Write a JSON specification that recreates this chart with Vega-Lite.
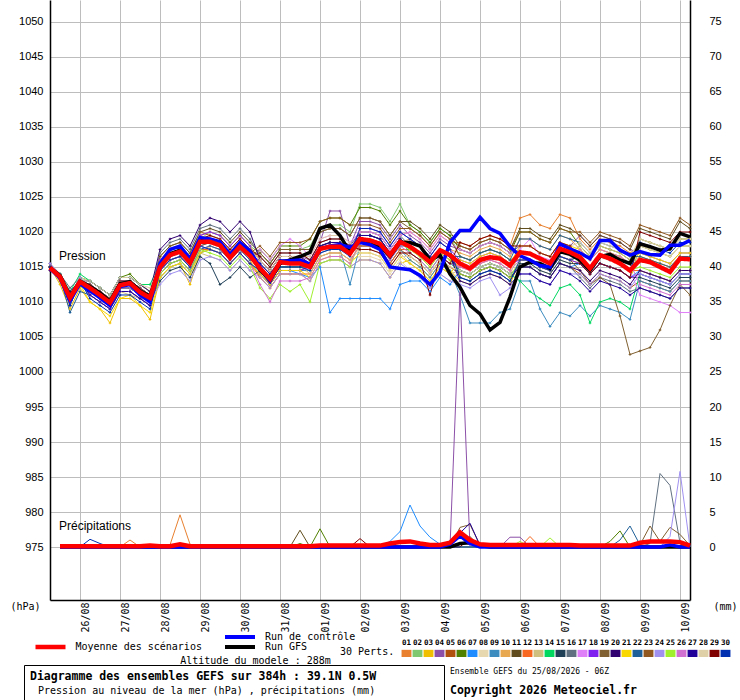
{
  "$schema": "https://vega.github.io/schema/vega-lite/v6.json",
  "width": 640,
  "height": 600,
  "autosize": {"type": "none"},
  "padding": {"left": 50, "top": 0, "right": 50, "bottom": 100},
  "background": "white",
  "config": {"view": {"stroke": null}, "font": "DejaVu Sans Mono"},
  "title": {
    "text": "Ensemble GEFS du 25/08/2026 - 06Z",
    "subtitle": "Copyright 2026 Meteociel.fr",
    "orient": "top", "anchor": "start", "frame": "group", "offset": 0,
    "dx": 400, "dy": 696,
    "font": "DejaVu Sans Mono", "fontSize": 8, "fontWeight": "normal", "color": "black",
    "subtitleFont": "DejaVu Sans Mono", "subtitleFontSize": 11.5, "subtitleFontWeight": "bold",
    "subtitleColor": "black", "subtitlePadding": 9
  },
  "datasets": {
    "pres": [
      {"h":0,"moy":1014.9,"ctl":1014.8,"gfs":1014.9,"01":1015,"02":1015,"03":1015,"04":1015,"05":1014.5,"06":1015,"07":1015,"08":1015.5,"09":1015,"10":1015,"11":1015,"12":1015,"13":1015,"14":1015,"15":1015,"16":1015,"17":1015,"18":1015,"19":1015,"20":1015.5,"21":1015,"22":1015,"23":1015,"24":1015.5,"25":1015,"26":1015,"27":1014.5,"28":1015,"29":1015,"30":1015},
      {"h":6,"moy":1013.6,"ctl":1013.4,"gfs":1013.8,"01":1013.5,"02":1014,"03":1012.5,"04":1013.5,"05":1013.5,"06":1014,"07":1013,"08":1014,"09":1013.5,"10":1013.5,"11":1013.5,"12":1013,"13":1013.5,"14":1014,"15":1013.5,"16":1014,"17":1013.5,"18":1013.5,"19":1013.5,"20":1013.5,"21":1013,"22":1013.5,"23":1013.5,"24":1014,"25":1013.5,"26":1013.5,"27":1013.5,"28":1013.5,"29":1013.5,"30":1013.5},
      {"h":12,"moy":1010.6,"ctl":1010.2,"gfs":1010.8,"01":1010.5,"02":1011,"03":1009,"04":1010.5,"05":1010.5,"06":1011,"07":1010,"08":1011,"09":1010.5,"10":1010.5,"11":1010.5,"12":1010,"13":1010.5,"14":1011.5,"15":1010.5,"16":1012,"17":1010.5,"18":1010.5,"19":1010.5,"20":1011.5,"21":1010,"22":1008.5,"23":1010.5,"24":1011,"25":1010.5,"26":1010.5,"27":1009.5,"28":1010.5,"29":1010.5,"30":1009.5},
      {"h":18,"moy":1012.9,"ctl":1012.6,"gfs":1013.0,"01":1013,"02":1013.5,"03":1012,"04":1013,"05":1013,"06":1013.5,"07":1012.5,"08":1013.5,"09":1013,"10":1013,"11":1013,"12":1012.5,"13":1013,"14":1014,"15":1013,"16":1013.5,"17":1013,"18":1013,"19":1013,"20":1013,"21":1012.5,"22":1011.5,"23":1013,"24":1013.5,"25":1013,"26":1013,"27":1013,"28":1013,"29":1013,"30":1013},
      {"h":24,"moy":1012.0,"ctl":1011.6,"gfs":1012.2,"01":1011.5,"02":1013,"03":1010,"04":1012.5,"05":1011.5,"06":1013,"07":1011,"08":1013,"09":1011.5,"10":1012,"11":1012.5,"12":1011.5,"13":1011,"14":1013,"15":1011.5,"16":1012,"17":1011,"18":1012.5,"19":1012,"20":1013,"21":1010,"22":1011,"23":1012.5,"24":1011.5,"25":1012,"26":1011,"27":1011,"28":1013,"29":1012,"30":1010.5},
      {"h":30,"moy":1011.0,"ctl":1010.6,"gfs":1011.3,"01":1010.5,"02":1012,"03":1009,"04":1011.5,"05":1010.5,"06":1012,"07":1010,"08":1012,"09":1010.5,"10":1011,"11":1011.5,"12":1010.5,"13":1010,"14":1012,"15":1010.5,"16":1011,"17":1010,"18":1011.5,"19":1011,"20":1012,"21":1009,"22":1010,"23":1011.5,"24":1010.5,"25":1011,"26":1010,"27":1010,"28":1012,"29":1011,"30":1009.5},
      {"h":36,"moy":1009.9,"ctl":1009.5,"gfs":1010.1,"01":1009.5,"02":1011,"03":1007,"04":1010.5,"05":1009.5,"06":1011,"07":1009,"08":1011,"09":1009.5,"10":1010,"11":1010.5,"12":1009.5,"13":1009,"14":1011,"15":1009.5,"16":1010,"17":1009,"18":1010.5,"19":1010,"20":1011,"21":1008,"22":1009,"23":1010.5,"24":1009.5,"25":1010,"26":1009,"27":1009,"28":1011,"29":1010,"30":1008.5},
      {"h":42,"moy":1012.4,"ctl":1012.2,"gfs":1012.6,"01":1012,"02":1013.5,"03":1010.5,"04":1013,"05":1012,"06":1013.5,"07":1011.5,"08":1013.5,"09":1012,"10":1012.5,"11":1013,"12":1012,"13":1011.5,"14":1013.5,"15":1012,"16":1012.5,"17":1011.5,"18":1013,"19":1012.5,"20":1013.5,"21":1010.5,"22":1011.5,"23":1013,"24":1012,"25":1012.5,"26":1011.5,"27":1011.5,"28":1013.5,"29":1012.5,"30":1011},
      {"h":48,"moy":1012.7,"ctl":1012.5,"gfs":1012.9,"01":1012,"02":1013.5,"03":1010.5,"04":1013,"05":1012,"06":1014,"07":1011.5,"08":1013.5,"09":1012,"10":1012.5,"11":1013,"12":1012,"13":1011,"14":1013.5,"15":1012,"16":1012.5,"17":1011.5,"18":1013,"19":1012.5,"20":1013.5,"21":1011,"22":1011.5,"23":1013,"24":1012,"25":1012.5,"26":1011.5,"27":1011.5,"28":1013.5,"29":1012.5,"30":1011},
      {"h":54,"moy":1011.4,"ctl":1011.0,"gfs":1011.6,"01":1011,"02":1012.5,"03":1009.5,"04":1012,"05":1011,"06":1012.5,"07":1010.5,"08":1012.5,"09":1011,"10":1011.5,"11":1012,"12":1011,"13":1010.5,"14":1012.5,"15":1011,"16":1011.5,"17":1010.5,"18":1012,"19":1011.5,"20":1012.5,"21":1009.5,"22":1010.5,"23":1012,"24":1011,"25":1011.5,"26":1010.5,"27":1010.5,"28":1012.5,"29":1011.5,"30":1010},
      {"h":60,"moy":1010.6,"ctl":1010.0,"gfs":1010.8,"01":1010,"02":1011.5,"03":1007.5,"04":1011,"05":1010,"06":1011.5,"07":1009.5,"08":1011.5,"09":1010,"10":1010.5,"11":1011,"12":1010,"13":1009.5,"14":1012.5,"15":1010,"16":1010.5,"17":1009.5,"18":1011,"19":1010.5,"20":1011.5,"21":1008.5,"22":1009.5,"23":1011,"24":1010,"25":1010.5,"26":1009.5,"27":1009.5,"28":1012,"29":1010.5,"30":1009},
      {"h":66,"moy":1015.0,"ctl":1015.5,"gfs":1015.2,"01":1016,"02":1015.5,"03":1013.5,"04":1014.5,"05":1016.5,"06":1015.5,"07":1014.5,"08":1016.5,"09":1013.5,"10":1016,"11":1016.5,"12":1014,"13":1013.5,"14":1015.5,"15":1013,"16":1017,"17":1014,"18":1016,"19":1014.5,"20":1017.5,"21":1013.5,"22":1014,"23":1015,"24":1012.5,"25":1014,"26":1014.5,"27":1015,"28":1015.5,"29":1015.5,"30":1014.5},
      {"h":72,"moy":1016.7,"ctl":1017.5,"gfs":1016.9,"01":1017.5,"02":1017,"03":1015,"04":1016,"05":1018,"06":1017,"07":1016,"08":1018,"09":1015,"10":1017.5,"11":1018,"12":1015.5,"13":1015,"14":1017,"15":1014.5,"16":1018.5,"17":1015.5,"18":1017.5,"19":1016,"20":1019,"21":1015,"22":1015.5,"23":1016.5,"24":1014,"25":1015.5,"26":1016,"27":1016.5,"28":1017,"29":1017,"30":1016},
      {"h":78,"moy":1017.2,"ctl":1018.0,"gfs":1017.4,"01":1018,"02":1017.5,"03":1015.5,"04":1016.5,"05":1018.5,"06":1017.5,"07":1016.5,"08":1018.5,"09":1015.5,"10":1018,"11":1018.5,"12":1016,"13":1015.5,"14":1017.5,"15":1015,"16":1019,"17":1016,"18":1018,"19":1016.5,"20":1019.5,"21":1015.5,"22":1016,"23":1017,"24":1014.5,"25":1016,"26":1016.5,"27":1017,"28":1017.5,"29":1017.5,"30":1016.5},
      {"h":84,"moy":1015.6,"ctl":1016.2,"gfs":1015.8,"01":1016.5,"02":1016,"03":1012.5,"04":1015,"05":1017,"06":1016,"07":1015,"08":1017,"09":1014,"10":1016.5,"11":1017,"12":1014.5,"13":1014,"14":1016,"15":1013.5,"16":1017.5,"17":1014.5,"18":1016.5,"19":1015,"20":1018,"21":1014,"22":1014.5,"23":1015.5,"24":1013,"25":1014.5,"26":1015,"27":1015.5,"28":1016,"29":1016,"30":1015},
      {"h":90,"moy":1018.6,"ctl":1019.2,"gfs":1018.8,"01":1019.5,"02":1019,"03":1017,"04":1018,"05":1020,"06":1019,"07":1018,"08":1020,"09":1017,"10":1019.5,"11":1020,"12":1017.5,"13":1017,"14":1019,"15":1016.5,"16":1020.5,"17":1017.5,"18":1019.5,"19":1018,"20":1021,"21":1017,"22":1017.5,"23":1018.5,"24":1016,"25":1017.5,"26":1018,"27":1018.5,"28":1019,"29":1019,"30":1018},
      {"h":96,"moy":1018.6,"ctl":1019.0,"gfs":1018.8,"01":1019,"02":1020,"03":1018,"04":1018.5,"05":1019.5,"06":1018.5,"07":1017.5,"08":1019,"09":1017.5,"10":1020,"11":1020.5,"12":1017.5,"13":1016.5,"14":1018.5,"15":1015.5,"16":1021,"17":1018,"18":1020,"19":1018.5,"20":1022,"21":1017.5,"22":1018,"23":1019,"24":1016.5,"25":1017,"26":1017.5,"27":1018.5,"28":1019.5,"29":1019.5,"30":1017.5},
      {"h":102,"moy":1018.1,"ctl":1018.6,"gfs":1018.3,"01":1018.5,"02":1019.5,"03":1017.5,"04":1018,"05":1019,"06":1018,"07":1017,"08":1018.5,"09":1017,"10":1019.5,"11":1020,"12":1017,"13":1016,"14":1018,"15":1012.5,"16":1020.5,"17":1017.5,"18":1019.5,"19":1018,"20":1021.5,"21":1017,"22":1017.5,"23":1018.5,"24":1016,"25":1016.5,"26":1017,"27":1018,"28":1019,"29":1019,"30":1017},
      {"h":108,"moy":1016.3,"ctl":1016.8,"gfs":1016.5,"01":1017,"02":1018,"03":1016,"04":1016.5,"05":1017.5,"06":1016.5,"07":1015.5,"08":1017,"09":1015.5,"10":1018,"11":1018.5,"12":1015.5,"13":1014.5,"14":1016.5,"15":1013.5,"16":1019,"17":1016,"18":1018,"19":1016.5,"20":1020,"21":1015.5,"22":1016,"23":1017,"24":1014.5,"25":1015,"26":1015.5,"27":1016.5,"28":1017.5,"29":1017.5,"30":1015.5},
      {"h":114,"moy":1017.9,"ctl":1018.5,"gfs":1018.1,"01":1018.5,"02":1019.5,"03":1017.5,"04":1018,"05":1019,"06":1018,"07":1017,"08":1018.5,"09":1017,"10":1019.5,"11":1020,"12":1017,"13":1016,"14":1018,"15":1015,"16":1020.5,"17":1017.5,"18":1019.5,"19":1018,"20":1021.5,"21":1017,"22":1017.5,"23":1018.5,"24":1016,"25":1016.5,"26":1017,"27":1018,"28":1019,"29":1019,"30":1017},
      {"h":120,"moy":1016.6,"ctl":1017.3,"gfs":1016.8,"01":1017,"02":1018,"03":1016,"04":1016.5,"05":1017.5,"06":1016.5,"07":1015.5,"08":1017,"09":1015.5,"10":1018,"11":1018.5,"12":1015.5,"13":1014.5,"14":1016.5,"15":1013.5,"16":1019,"17":1016,"18":1018,"19":1016.5,"20":1020,"21":1015.5,"22":1016,"23":1017,"24":1014.5,"25":1015,"26":1015.5,"27":1016.5,"28":1017.5,"29":1017.5,"30":1015.5},
      {"h":126,"moy":1014.8,"ctl":1015.0,"gfs":1014.6,"01":1014,"02":1017,"03":1013.5,"04":1016,"05":1016,"06":1017.5,"07":1014,"08":1014.5,"09":1014,"10":1016,"11":1017,"12":1013.5,"13":1015,"14":1014.5,"15":1014.5,"16":1016.5,"17":1017.5,"18":1014,"19":1017,"20":1016,"21":1014,"22":1015.5,"23":1018,"24":1013.5,"25":1012,"26":1012.5,"27":1015.5,"28":1016,"29":1016.5,"30":1014.5},
      {"h":132,"moy":1013.3,"ctl":1013.0,"gfs":1013.0,"01":1012.5,"02":1015.5,"03":1012,"04":1014.5,"05":1014.5,"06":1016,"07":1012.5,"08":1013,"09":1012.5,"10":1014.5,"11":1015.5,"12":1012,"13":1013.5,"14":1013,"15":1013,"16":1015,"17":1016,"18":1012.5,"19":1015.5,"20":1014.5,"21":1012.5,"22":1014,"23":1016.5,"24":1012,"25":1010.5,"26":1010,"27":1014,"28":1014.5,"29":1015,"30":1013},
      {"h":138,"moy":1015.7,"ctl":1015.8,"gfs":1015.5,"01":1014.5,"02":1017.5,"03":1014,"04":1016.5,"05":1016.5,"06":1018,"07":1014.5,"08":1015,"09":1014.5,"10":1016.5,"11":1017.5,"12":1014,"13":1015.5,"14":1015,"15":1015,"16":1017,"17":1018,"18":1014.5,"19":1017.5,"20":1016.5,"21":1014.5,"22":1016,"23":1018.5,"24":1014,"25":1012.5,"26":1013,"27":1016,"28":1016.5,"29":1017,"30":1015},
      {"h":144,"moy":1015.5,"ctl":1015.9,"gfs":1016.0,"01":1014.5,"02":1017.5,"03":1014,"04":1016.5,"05":1016.5,"06":1018,"07":1014.5,"08":1015,"09":1014.5,"10":1016.5,"11":1017.5,"12":1014,"13":1015.5,"14":1015,"15":1015,"16":1017,"17":1019,"18":1014.5,"19":1017.5,"20":1016.5,"21":1014.5,"22":1016,"23":1018.5,"24":1014,"25":1011.5,"26":1013,"27":1016,"28":1016.5,"29":1017,"30":1015},
      {"h":150,"moy":1015.5,"ctl":1016.0,"gfs":1016.5,"01":1014.5,"02":1017.5,"03":1014,"04":1016.5,"05":1016.5,"06":1018,"07":1014,"08":1015,"09":1014.5,"10":1016.5,"11":1017.5,"12":1014,"13":1015.5,"14":1015,"15":1015,"16":1017,"17":1018,"18":1014.5,"19":1017.5,"20":1016.5,"21":1014.5,"22":1016,"23":1018.5,"24":1014,"25":1012.5,"26":1013,"27":1016,"28":1016.5,"29":1017,"30":1015},
      {"h":156,"moy":1015.0,"ctl":1015.4,"gfs":1017.1,"01":1015.5,"02":1018,"03":1013,"04":1016,"05":1015,"06":1019,"07":1013.5,"08":1014,"09":1014.5,"10":1015,"11":1017.5,"12":1014,"13":1014,"14":1015.5,"15":1015,"16":1016,"17":1016.5,"18":1015,"19":1017.5,"20":1015.5,"21":1013.5,"22":1015,"23":1019,"24":1013,"25":1010,"26":1013.5,"27":1015.5,"28":1016.5,"29":1016,"30":1014.5},
      {"h":162,"moy":1017.6,"ctl":1017.6,"gfs":1020.5,"01":1018,"02":1020.5,"03":1015.5,"04":1018.5,"05":1017.5,"06":1021.5,"07":1015,"08":1016.5,"09":1017,"10":1017.5,"11":1020,"12":1016.5,"13":1016.5,"14":1018,"15":1017.5,"16":1018.5,"17":1019,"18":1017.5,"19":1020,"20":1018,"21":1016,"22":1017.5,"23":1021.5,"24":1015.5,"25":1015.5,"26":1016,"27":1018,"28":1019,"29":1018.5,"30":1017},
      {"h":168,"moy":1017.9,"ctl":1018.0,"gfs":1021.0,"01":1018.5,"02":1021,"03":1016,"04":1023,"05":1018,"06":1022,"07":1008.5,"08":1017,"09":1017.5,"10":1018,"11":1020.5,"12":1017,"13":1017,"14":1018.5,"15":1018,"16":1019,"17":1019.5,"18":1018,"19":1020.5,"20":1018.5,"21":1016.5,"22":1018,"23":1022,"24":1016,"25":1016,"26":1016.5,"27":1018.5,"28":1019.5,"29":1019,"30":1017.5},
      {"h":174,"moy":1017.9,"ctl":1018.2,"gfs":1019.5,"01":1018.5,"02":1021,"03":1016,"04":1023,"05":1018,"06":1022,"07":1010.5,"08":1017,"09":1017.5,"10":1018,"11":1020.5,"12":1017,"13":1017,"14":1018.5,"15":1018,"16":1019,"17":1019.5,"18":1018,"19":1020.5,"20":1018.5,"21":1016.5,"22":1018,"23":1022,"24":1016,"25":1016,"26":1016.5,"27":1018.5,"28":1019.5,"29":1019,"30":1017.5},
      {"h":180,"moy":1016.9,"ctl":1017.8,"gfs":1017.1,"01":1017.5,"02":1020,"03":1015,"04":1018,"05":1017,"06":1021,"07":1010.5,"08":1016,"09":1012.5,"10":1017,"11":1019.5,"12":1016,"13":1016,"14":1017.5,"15":1017,"16":1018,"17":1018.5,"18":1017,"19":1019.5,"20":1017.5,"21":1015.5,"22":1017,"23":1021,"24":1015,"25":1015,"26":1015.5,"27":1017.5,"28":1018.5,"29":1018,"30":1016.5},
      {"h":186,"moy":1019.0,"ctl":1018.5,"gfs":1018.8,"01":1020,"02":1024,"03":1016,"04":1021.5,"05":1018,"06":1023.5,"07":1010.5,"08":1016.5,"09":1018,"10":1019,"11":1022,"12":1018,"13":1017.5,"14":1019.5,"15":1019.5,"16":1020,"17":1020,"18":1020.5,"19":1022,"20":1019.5,"21":1017,"22":1018.5,"23":1021,"24":1016,"25":1019,"26":1018.5,"27":1019.5,"28":1017,"29":1017.5,"30":1020.5},
      {"h":192,"moy":1018.8,"ctl":1018.2,"gfs":1018.5,"01":1020,"02":1024,"03":1016,"04":1021.5,"05":1018,"06":1023.5,"07":1010.5,"08":1016.5,"09":1018,"10":1019,"11":1022,"12":1018,"13":1017.5,"14":1019.5,"15":1019.5,"16":1020,"17":1020,"18":1020.5,"19":1022,"20":1019.5,"21":1017,"22":1018.5,"23":1021,"24":1016,"25":1019,"26":1018.5,"27":1019.5,"28":1017,"29":1017.5,"30":1020.5},
      {"h":198,"moy":1018.3,"ctl":1017.5,"gfs":1018.0,"01":1019.5,"02":1023.5,"03":1015.5,"04":1021,"05":1017.5,"06":1023,"07":1010.5,"08":1016,"09":1017.5,"10":1018.5,"11":1021.5,"12":1017.5,"13":1017,"14":1019,"15":1019,"16":1019.5,"17":1019.5,"18":1020,"19":1021.5,"20":1019,"21":1016.5,"22":1018,"23":1020.5,"24":1015.5,"25":1018.5,"26":1018,"27":1019,"28":1016.5,"29":1017,"30":1020},
      {"h":204,"moy":1016.7,"ctl":1015.0,"gfs":1016.5,"01":1017.5,"02":1021.5,"03":1013.5,"04":1019,"05":1015.5,"06":1021,"07":1009,"08":1014,"09":1015.5,"10":1016.5,"11":1019.5,"12":1015.5,"13":1015,"14":1017,"15":1017,"16":1017.5,"17":1017.5,"18":1018,"19":1019.5,"20":1017,"21":1014.5,"22":1016,"23":1018.5,"24":1013.5,"25":1016.5,"26":1016,"27":1017,"28":1014.5,"29":1015,"30":1018},
      {"h":210,"moy":1018.6,"ctl":1014.8,"gfs":1018.5,"01":1019.5,"02":1024,"03":1015.5,"04":1021,"05":1017.5,"06":1023,"07":1012.5,"08":1016,"09":1017.5,"10":1018.5,"11":1021.5,"12":1017.5,"13":1017,"14":1019,"15":1019,"16":1019.5,"17":1019.5,"18":1020,"19":1021.5,"20":1019,"21":1016.5,"22":1018,"23":1020.5,"24":1015.5,"25":1018.5,"26":1018,"27":1019,"28":1016.5,"29":1017,"30":1020},
      {"h":216,"moy":1017.9,"ctl":1014.6,"gfs":1018.5,"01":1020,"02":1021,"03":1016,"04":1019.5,"05":1016.5,"06":1021,"07":1013,"08":1014.5,"09":1016,"10":1019,"11":1021.5,"12":1017.5,"13":1015.5,"14":1017,"15":1018,"16":1018,"17":1020,"18":1019,"19":1020.5,"20":1018,"21":1015.5,"22":1018,"23":1020.5,"24":1014.5,"25":1017.5,"26":1017,"27":1018,"28":1016.5,"29":1017,"30":1019},
      {"h":222,"moy":1016.9,"ctl":1013.8,"gfs":1018.0,"01":1019,"02":1020,"03":1015,"04":1018.5,"05":1015.5,"06":1020,"07":1013,"08":1013.5,"09":1015,"10":1018,"11":1020.5,"12":1016.5,"13":1014.5,"14":1016,"15":1017,"16":1017,"17":1019,"18":1018,"19":1019.5,"20":1017,"21":1014.5,"22":1017,"23":1019.5,"24":1013.5,"25":1016.5,"26":1016,"27":1017,"28":1015.5,"29":1016,"30":1018},
      {"h":228,"moy":1015.7,"ctl":1012.5,"gfs":1016.0,"01":1017.5,"02":1018.5,"03":1013.5,"04":1017,"05":1014,"06":1018.5,"07":1011.5,"08":1012,"09":1013.5,"10":1016.5,"11":1019,"12":1015,"13":1013,"14":1014.5,"15":1015.5,"16":1015.5,"17":1017.5,"18":1016.5,"19":1018,"20":1015.5,"21":1013,"22":1015.5,"23":1018,"24":1012,"25":1015,"26":1014.5,"27":1015.5,"28":1014,"29":1011,"30":1016.5},
      {"h":234,"moy":1017.4,"ctl":1014.3,"gfs":1016.7,"01":1019.5,"02":1020.5,"03":1015.5,"04":1019,"05":1016,"06":1020.5,"07":1013.5,"08":1014,"09":1015.5,"10":1018.5,"11":1021,"12":1017,"13":1015,"14":1016.5,"15":1017.5,"16":1017.5,"17":1019.5,"18":1018.5,"19":1020,"20":1017.5,"21":1015,"22":1017.5,"23":1020,"24":1014,"25":1017,"26":1016.5,"27":1017.5,"28":1016,"29":1016.5,"30":1018.5},
      {"h":240,"moy":1016.7,"ctl":1018.5,"gfs":1014.0,"01":1018.5,"02":1019.5,"03":1014.5,"04":1018,"05":1015,"06":1019.5,"07":1012.5,"08":1013,"09":1014.5,"10":1017.5,"11":1020,"12":1016,"13":1014,"14":1015.5,"15":1016.5,"16":1016.5,"17":1018.5,"18":1017.5,"19":1019,"20":1016.5,"21":1014,"22":1016.5,"23":1019,"24":1013,"25":1016,"26":1015.5,"27":1016.5,"28":1015,"29":1015.5,"30":1017.5},
      {"h":246,"moy":1015.5,"ctl":1020.2,"gfs":1012.1,"01":1018.5,"02":1016.5,"03":1013,"04":1017.5,"05":1014,"06":1017.5,"07":1014.5,"08":1014.5,"09":1011,"10":1017,"11":1018,"12":1015,"13":1014.5,"14":1014.5,"15":1013.5,"16":1014.5,"17":1017.5,"18":1016,"19":1016.5,"20":1014,"21":1016,"22":1016.5,"23":1018,"24":1012.5,"25":1014,"26":1015,"27":1013,"28":1014.5,"29":1018.5,"30":1013.5},
      {"h":252,"moy":1014.8,"ctl":1020.2,"gfs":1009.5,"01":1018,"02":1016,"03":1012.5,"04":1017,"05":1013.5,"06":1017,"07":1014,"08":1014,"09":1007,"10":1016.5,"11":1017.5,"12":1014.5,"13":1014,"14":1014,"15":1013,"16":1014,"17":1017,"18":1015.5,"19":1016,"20":1013.5,"21":1015.5,"22":1016,"23":1017.5,"24":1012,"25":1013.5,"26":1014.5,"27":1012.5,"28":1014,"29":1018,"30":1013},
      {"h":258,"moy":1016.0,"ctl":1022.1,"gfs":1008.3,"01":1019,"02":1017,"03":1013.5,"04":1018,"05":1014.5,"06":1018,"07":1015,"08":1015,"09":1007,"10":1017.5,"11":1018.5,"12":1015.5,"13":1015,"14":1015,"15":1014,"16":1015,"17":1018,"18":1016.5,"19":1017,"20":1014.5,"21":1016.5,"22":1017,"23":1018.5,"24":1013,"25":1014.5,"26":1015.5,"27":1013.5,"28":1015,"29":1019,"30":1014},
      {"h":264,"moy":1016.4,"ctl":1020.5,"gfs":1006.0,"01":1019.5,"02":1017.5,"03":1014,"04":1018.5,"05":1015,"06":1018.5,"07":1015.5,"08":1015.5,"09":1007,"10":1018,"11":1019,"12":1016,"13":1015.5,"14":1015.5,"15":1014.5,"16":1015.5,"17":1018.5,"18":1017,"19":1017.5,"20":1015,"21":1017,"22":1017.5,"23":1019,"24":1013.5,"25":1015,"26":1016,"27":1014,"28":1015.5,"29":1019.5,"30":1014.5},
      {"h":270,"moy":1016.2,"ctl":1019.8,"gfs":1007.1,"01":1019,"02":1017,"03":1013.5,"04":1018,"05":1014.5,"06":1018,"07":1015,"08":1015,"09":1008.5,"10":1017.5,"11":1018.5,"12":1015.5,"13":1015,"14":1015,"15":1014,"16":1015,"17":1018,"18":1016.5,"19":1017,"20":1014.5,"21":1016.5,"22":1017,"23":1018.5,"24":1011,"25":1014.5,"26":1015.5,"27":1013.5,"28":1015,"29":1019,"30":1014},
      {"h":276,"moy":1015.2,"ctl":1017.9,"gfs":1010.7,"01":1018,"02":1016,"03":1012.5,"04":1017,"05":1013.5,"06":1017,"07":1014,"08":1014,"09":1009,"10":1016.5,"11":1017.5,"12":1014.5,"13":1014,"14":1014,"15":1013,"16":1014,"17":1017,"18":1015.5,"19":1016,"20":1013.5,"21":1015.5,"22":1016,"23":1017.5,"24":1012,"25":1013.5,"26":1014.5,"27":1012.5,"28":1014,"29":1018,"30":1013},
      {"h":282,"moy":1017.1,"ctl":1016.6,"gfs":1015.0,"01":1022,"02":1017,"03":1016,"04":1018,"05":1015,"06":1020,"07":1015,"08":1015.5,"09":1013,"10":1019,"11":1020.5,"12":1018,"13":1017,"14":1013,"15":1015.5,"16":1015,"17":1017.5,"18":1016,"19":1016,"20":1015,"21":1018,"22":1019,"23":1020,"24":1014,"25":1016,"26":1016,"27":1014,"28":1018,"29":1018,"30":1016},
      {"h":288,"moy":1016.9,"ctl":1016.0,"gfs":1015.7,"01":1022.5,"02":1017,"03":1016,"04":1018,"05":1015,"06":1020,"07":1015,"08":1015.5,"09":1013,"10":1019,"11":1020.5,"12":1018,"13":1017,"14":1011.5,"15":1015.5,"16":1015,"17":1019,"18":1016,"19":1016,"20":1015,"21":1018,"22":1019,"23":1020,"24":1014,"25":1016,"26":1016,"27":1014,"28":1018,"29":1018,"30":1016},
      {"h":294,"moy":1016.2,"ctl":1015.2,"gfs":1015.5,"01":1021,"02":1016,"03":1015,"04":1017,"05":1014,"06":1019,"07":1014,"08":1014.5,"09":1009,"10":1018,"11":1019.5,"12":1017,"13":1016,"14":1010.5,"15":1014.5,"16":1014,"17":1016.5,"18":1015,"19":1015,"20":1014,"21":1017,"22":1018,"23":1019,"24":1013,"25":1015,"26":1015,"27":1013,"28":1017,"29":1017,"30":1015},
      {"h":300,"moy":1015.5,"ctl":1015.0,"gfs":1014.8,"01":1020.5,"02":1015.5,"03":1014.5,"04":1016.5,"05":1013.5,"06":1018.5,"07":1013.5,"08":1014,"09":1006.5,"10":1017.5,"11":1019,"12":1016.5,"13":1015.5,"14":1009.5,"15":1014,"16":1013.5,"17":1016,"18":1014.5,"19":1014.5,"20":1013.5,"21":1016.5,"22":1017.5,"23":1018.5,"24":1012.5,"25":1014.5,"26":1014.5,"27":1012.5,"28":1016.5,"29":1016.5,"30":1014.5},
      {"h":306,"moy":1017.6,"ctl":1018.3,"gfs":1017.2,"01":1022.5,"02":1017.5,"03":1016.5,"04":1018.5,"05":1015.5,"06":1020.5,"07":1015.5,"08":1016,"09":1008.5,"10":1019.5,"11":1021,"12":1018.5,"13":1017.5,"14":1012,"15":1016,"16":1015.5,"17":1018,"18":1016.5,"19":1016.5,"20":1015.5,"21":1018.5,"22":1019.5,"23":1020.5,"24":1014.5,"25":1016.5,"26":1016.5,"27":1014.5,"28":1018.5,"29":1018.5,"30":1016.5},
      {"h":312,"moy":1017.1,"ctl":1017.6,"gfs":1016.8,"01":1022,"02":1017,"03":1016,"04":1018,"05":1015,"06":1020,"07":1015,"08":1015.5,"09":1008,"10":1019,"11":1020.5,"12":1018,"13":1017,"14":1012.5,"15":1015.5,"16":1015,"17":1017.5,"18":1016,"19":1016,"20":1015,"21":1018,"22":1019,"23":1020,"24":1014,"25":1016,"26":1016,"27":1014,"28":1018,"29":1018,"30":1016},
      {"h":318,"moy":1016.4,"ctl":1017.0,"gfs":1016.0,"01":1019,"02":1015.5,"03":1015.5,"04":1019.5,"05":1014,"06":1018,"07":1015.5,"08":1017.5,"09":1009.5,"10":1017.5,"11":1019.5,"12":1016.5,"13":1018,"14":1011,"15":1015.5,"16":1013.5,"17":1016.5,"18":1015.5,"19":1014.5,"20":1014.5,"21":1017.5,"22":1018.5,"23":1020,"24":1014,"25":1016.5,"26":1017.5,"27":1013,"28":1018.5,"29":1015.5,"30":1016.5},
      {"h":324,"moy":1014.8,"ctl":1016.2,"gfs":1014.5,"01":1017.5,"02":1014,"03":1014,"04":1018,"05":1012.5,"06":1016.5,"07":1014,"08":1016,"09":1008,"10":1016,"11":1018,"12":1015,"13":1016.5,"14":1007,"15":1014,"16":1012,"17":1015,"18":1014,"19":1012.5,"20":1013,"21":1016,"22":1017,"23":1018.5,"24":1012.5,"25":1015,"26":1016,"27":1011.5,"28":1017,"29":1014,"30":1015},
      {"h":330,"moy":1016.7,"ctl":1018.8,"gfs":1016.5,"01":1019,"02":1015.5,"03":1015.5,"04":1019.5,"05":1014,"06":1018,"07":1015.5,"08":1017.5,"09":1009.5,"10":1017.5,"11":1019.5,"12":1016.5,"13":1018,"14":1010,"15":1015.5,"16":1013.5,"17":1016.5,"18":1015.5,"19":1013.5,"20":1014.5,"21":1017.5,"22":1018.5,"23":1020,"24":1014,"25":1016.5,"26":1017.5,"27":1013,"28":1018.5,"29":1015.5,"30":1016.5},
      {"h":336,"moy":1016.2,"ctl":1018.8,"gfs":1016.8,"01":1018.5,"02":1015,"03":1015,"04":1019,"05":1013.5,"06":1017.5,"07":1015,"08":1017,"09":1009,"10":1017,"11":1019,"12":1016,"13":1017.5,"14":1010.5,"15":1015,"16":1013,"17":1016,"18":1015,"19":1012.5,"20":1014,"21":1017,"22":1018,"23":1019.5,"24":1013.5,"25":1016,"26":1017,"27":1012.5,"28":1018,"29":1015,"30":1016},
      {"h":342,"moy":1015.5,"ctl":1017.4,"gfs":1016.0,"01":1018,"02":1014.5,"03":1014.5,"04":1018.5,"05":1013,"06":1017,"07":1014.5,"08":1016.5,"09":1008.5,"10":1016.5,"11":1018.5,"12":1015.5,"13":1017,"14":1010,"15":1014.5,"16":1012.5,"17":1015.5,"18":1014.5,"19":1008,"20":1013.5,"21":1016.5,"22":1017.5,"23":1019,"24":1013,"25":1015.5,"26":1016.5,"27":1012,"28":1017.5,"29":1014.5,"30":1015.5},
      {"h":348,"moy":1014.5,"ctl":1016.7,"gfs":1015.5,"01":1017,"02":1013.5,"03":1013.5,"04":1017.5,"05":1012,"06":1016,"07":1013.5,"08":1015.5,"09":1007.5,"10":1015.5,"11":1017.5,"12":1014.5,"13":1016,"14":1009,"15":1013.5,"16":1011.5,"17":1014.5,"18":1013.5,"19":1002.5,"20":1012.5,"21":1015.5,"22":1016.5,"23":1018,"24":1012,"25":1014.5,"26":1015.5,"27":1011,"28":1016.5,"29":1013.5,"30":1014.5},
      {"h":354,"moy":1016.0,"ctl":1017.2,"gfs":1018.3,"01":1018,"02":1018,"03":1016.5,"04":1017,"05":1013,"06":1019,"07":1014.5,"08":1018,"09":1013,"10":1016.5,"11":1020.5,"12":1014.5,"13":1019,"14":1014,"15":1013.5,"16":1012,"17":1011,"18":1014,"19":1003,"20":1014.5,"21":1017,"22":1016.5,"23":1021,"24":1014,"25":1015,"26":1012.5,"27":1012,"28":1019,"29":1020,"30":1018.5},
      {"h":360,"moy":1015.7,"ctl":1016.8,"gfs":1017.9,"01":1017.5,"02":1017.5,"03":1016,"04":1016.5,"05":1012.5,"06":1018.5,"07":1014,"08":1017.5,"09":1012.5,"10":1016,"11":1020,"12":1014,"13":1018.5,"14":1013.5,"15":1013,"16":1011.5,"17":1010.5,"18":1013.5,"19":1003.5,"20":1014,"21":1016.5,"22":1016,"23":1020.5,"24":1013.5,"25":1014.5,"26":1012,"27":1011.5,"28":1018.5,"29":1019.5,"30":1018},
      {"h":366,"moy":1015.0,"ctl":1016.7,"gfs":1017.4,"01":1017,"02":1017,"03":1015.5,"04":1016,"05":1012,"06":1018,"07":1013.5,"08":1017,"09":1012,"10":1015.5,"11":1019.5,"12":1013.5,"13":1018,"14":1013,"15":1012.5,"16":1011,"17":1010,"18":1013,"19":1006,"20":1013.5,"21":1016,"22":1015.5,"23":1020,"24":1013,"25":1014,"26":1011.5,"27":1011,"28":1018,"29":1019,"30":1017.5},
      {"h":372,"moy":1014.3,"ctl":1018.1,"gfs":1017.6,"01":1016.5,"02":1016.5,"03":1015,"04":1015.5,"05":1011.5,"06":1017.5,"07":1013,"08":1016.5,"09":1011.5,"10":1015,"11":1019,"12":1013,"13":1017.5,"14":1012.5,"15":1012,"16":1010.5,"17":1009.5,"18":1012.5,"19":1009.5,"20":1013,"21":1015.5,"22":1015,"23":1019.5,"24":1012.5,"25":1013.5,"26":1011,"27":1010.5,"28":1017.5,"29":1018.5,"30":1017},
      {"h":378,"moy":1016.2,"ctl":1018.1,"gfs":1019.8,"01":1018,"02":1018,"03":1016.5,"04":1017,"05":1013,"06":1019,"07":1014.5,"08":1018,"09":1013,"10":1016.5,"11":1021.5,"12":1014.5,"13":1019,"14":1014,"15":1013.5,"16":1012,"17":1008.5,"18":1014,"19":1012.5,"20":1014.5,"21":1017,"22":1016.5,"23":1022,"24":1014,"25":1015,"26":1012.5,"27":1012,"28":1019,"29":1020,"30":1018.5},
      {"h":384,"moy":1016.1,"ctl":1018.8,"gfs":1019.3,"01":1018,"02":1018,"03":1016.5,"04":1017,"05":1013,"06":1019,"07":1014.5,"08":1018,"09":1013,"10":1016.5,"11":1020.5,"12":1014.5,"13":1019,"14":1014,"15":1013.5,"16":1012,"17":1008.5,"18":1014,"19":1011,"20":1014.5,"21":1017,"22":1016.5,"23":1021,"24":1014,"25":1015,"26":1012.5,"27":1012,"28":1019,"29":1020,"30":1018.5}
    ],
    "pluie": [
      {"h":6,"moy":0.1,"ctl":0,"gfs":0,"01":0,"04":0,"06":0,"07":0,"11":0,"12":0,"16":0,"19":0,"22":0,"24":0,"25":0,"27":0,"29":0,"30":0},
      {"h":12,"moy":0.1,"ctl":0,"gfs":0,"01":0,"04":0,"06":0,"07":0,"11":0,"12":0,"16":0,"19":0,"22":0,"24":0,"25":0,"27":0,"29":0,"30":0},
      {"h":18,"moy":0.1,"ctl":0,"gfs":0,"01":0,"04":0,"06":0,"07":0,"11":0,"12":0,"16":0,"19":0,"22":0,"24":0,"25":0,"27":0,"29":0,"30":0},
      {"h":24,"moy":0.1,"ctl":0,"gfs":0,"01":0,"04":0,"06":0,"07":0,"11":0,"12":0,"16":0,"19":0,"22":0,"24":0,"25":0,"27":0,"29":0,"30":1.1},
      {"h":30,"moy":0.1,"ctl":0,"gfs":0,"01":0,"04":0,"06":0,"07":0,"11":0,"12":0,"16":0,"19":0,"22":0,"24":0,"25":0,"27":0,"29":0,"30":0.5},
      {"h":36,"moy":0.1,"ctl":0,"gfs":0,"01":0,"04":0,"06":0,"07":0,"11":0,"12":0,"16":0,"19":0,"22":0,"24":0,"25":0,"27":0,"29":0,"30":0},
      {"h":42,"moy":0.1,"ctl":0,"gfs":0,"01":0,"04":0,"06":0,"07":0,"11":0,"12":0,"16":0,"19":0,"22":0,"24":0,"25":0,"27":0,"29":0,"30":0},
      {"h":48,"moy":0.1,"ctl":0,"gfs":0,"01":1.0,"04":0,"06":0,"07":0,"11":0,"12":0,"16":0,"19":0,"22":0,"24":0,"25":0,"27":0,"29":0,"30":0},
      {"h":54,"moy":0.1,"ctl":0,"gfs":0,"01":0,"04":0,"06":0,"07":0,"11":0,"12":0,"16":0,"19":0,"22":0,"24":0,"25":0,"27":0,"29":0,"30":0},
      {"h":60,"moy":0.2,"ctl":0,"gfs":0,"01":0,"04":0,"06":0,"07":0,"11":0,"12":0,"16":0,"19":0,"22":0,"24":0,"25":0,"27":0,"29":0,"30":0},
      {"h":66,"moy":0.1,"ctl":0,"gfs":0,"01":0,"04":0,"06":0,"07":0,"11":0,"12":0,"16":0,"19":0,"22":0,"24":0,"25":0,"27":0,"29":0,"30":0},
      {"h":72,"moy":0.1,"ctl":0,"gfs":0,"01":0.3,"04":0,"06":0,"07":0,"11":0,"12":0,"16":0,"19":0,"22":0,"24":0,"25":0,"27":0,"29":0,"30":0},
      {"h":78,"moy":0.4,"ctl":0,"gfs":0,"01":4.6,"04":0,"06":0,"07":0,"11":0,"12":0,"16":0,"19":0,"22":0,"24":0,"25":0,"27":0,"29":0,"30":0},
      {"h":84,"moy":0.1,"ctl":0,"gfs":0,"01":0.4,"04":0,"06":0,"07":0,"11":0,"12":0,"16":0,"19":0,"22":0,"24":0,"25":0,"27":0,"29":0,"30":0},
      {"h":90,"moy":0.1,"ctl":0,"gfs":0,"01":0,"04":0,"06":0,"07":0,"11":0,"12":0,"16":0,"19":0,"22":0,"24":0,"25":0,"27":0,"29":0,"30":0},
      {"h":96,"moy":0.1,"ctl":0,"gfs":0,"01":0,"04":0,"06":0,"07":0,"11":0,"12":0,"16":0,"19":0,"22":0,"24":0,"25":0,"27":0,"29":0,"30":0},
      {"h":102,"moy":0.1,"ctl":0,"gfs":0,"01":0,"04":0,"06":0,"07":0,"11":0,"12":0,"16":0,"19":0,"22":0,"24":0,"25":0,"27":0,"29":0,"30":0},
      {"h":108,"moy":0.1,"ctl":0,"gfs":0,"01":0,"04":0,"06":0,"07":0,"11":0,"12":0,"16":0,"19":0,"22":0,"24":0,"25":0,"27":0,"29":0,"30":0},
      {"h":114,"moy":0.1,"ctl":0,"gfs":0,"01":0,"04":0,"06":0,"07":0,"11":0,"12":0,"16":0,"19":0,"22":0,"24":0,"25":0,"27":0,"29":0,"30":0},
      {"h":120,"moy":0.1,"ctl":0,"gfs":0,"01":0,"04":0,"06":0,"07":0,"11":0,"12":0,"16":0,"19":0,"22":0,"24":0,"25":0,"27":0,"29":0,"30":0},
      {"h":126,"moy":0.1,"ctl":0,"gfs":0,"01":0,"04":0,"06":0,"07":0,"11":0,"12":0,"16":0,"19":0,"22":0,"24":0,"25":0,"27":0,"29":0,"30":0},
      {"h":132,"moy":0.1,"ctl":0,"gfs":0,"01":0,"04":0,"06":0,"07":0,"11":0,"12":0,"16":0,"19":0,"22":0,"24":0,"25":0,"27":0,"29":0,"30":0},
      {"h":138,"moy":0.1,"ctl":0,"gfs":0,"01":0,"04":0,"06":0,"07":0,"11":0,"12":0,"16":0,"19":0,"22":0,"24":0,"25":0,"27":0,"29":0,"30":0},
      {"h":144,"moy":0.1,"ctl":0,"gfs":0,"01":0,"04":0,"06":0,"07":0,"11":0,"12":0,"16":0,"19":0,"22":0,"24":0,"25":0,"27":0,"29":0,"30":0},
      {"h":150,"moy":0.1,"ctl":0,"gfs":0,"01":0,"04":0,"06":0.5,"07":0,"11":2.4,"12":0,"16":0,"19":0,"22":0,"24":0,"25":0,"27":0,"29":0,"30":0},
      {"h":156,"moy":0.1,"ctl":0,"gfs":0,"01":0,"04":0,"06":0,"07":0,"11":0,"12":0,"16":0,"19":0,"22":0,"24":0,"25":0,"27":0,"29":0,"30":0},
      {"h":162,"moy":0.2,"ctl":0,"gfs":0,"01":0,"04":0,"06":2.6,"07":0,"11":0,"12":0,"16":0,"19":0,"22":0,"24":0,"25":0,"27":0,"29":0,"30":0},
      {"h":168,"moy":0.2,"ctl":0,"gfs":0,"01":0,"04":0,"06":0,"07":0,"11":0,"12":0,"16":0,"19":0,"22":0,"24":0,"25":0,"27":0,"29":0,"30":0},
      {"h":174,"moy":0.2,"ctl":0,"gfs":0,"01":0,"04":0,"06":0,"07":0,"11":0,"12":0,"16":0,"19":0,"22":0,"24":0,"25":0,"27":0,"29":0,"30":0},
      {"h":180,"moy":0.2,"ctl":0,"gfs":0,"01":0,"04":0,"06":0,"07":0,"11":0,"12":0,"16":0,"19":0,"22":0,"24":0,"25":0,"27":0,"29":0,"30":0},
      {"h":186,"moy":0.2,"ctl":0,"gfs":0,"01":0,"04":0,"06":0,"07":0,"11":0,"12":0,"16":0,"19":0,"22":0,"24":0,"25":0,"27":0,"29":1.2,"30":0},
      {"h":192,"moy":0.2,"ctl":0,"gfs":0,"01":0,"04":0,"06":0,"07":0,"11":0,"12":0,"16":0,"19":0,"22":0,"24":0,"25":0,"27":0,"29":0,"30":0},
      {"h":198,"moy":0.2,"ctl":0,"gfs":0,"01":0,"04":0,"06":0,"07":0,"11":0,"12":0,"16":0,"19":0,"22":0,"24":0,"25":0,"27":0,"29":0,"30":0},
      {"h":204,"moy":0.5,"ctl":0,"gfs":0,"01":0,"04":0,"06":0,"07":0.8,"11":0,"12":0,"16":0,"19":0,"22":0,"24":0,"25":0,"27":0,"29":0,"30":0},
      {"h":210,"moy":0.7,"ctl":0,"gfs":0,"01":0,"04":0,"06":0,"07":2.2,"11":0,"12":0,"16":0,"19":0,"22":0,"24":0,"25":0,"27":0,"29":0,"30":0},
      {"h":216,"moy":0.8,"ctl":0,"gfs":0,"01":0,"04":0,"06":0,"07":6.0,"11":0,"12":0,"16":0,"19":0,"22":0,"24":0,"25":0,"27":0,"29":0,"30":0},
      {"h":222,"moy":0.5,"ctl":0,"gfs":0,"01":0,"04":0,"06":0,"07":3.0,"11":0,"12":0,"16":0,"19":0,"22":0,"24":0,"25":0,"27":0,"29":0,"30":0},
      {"h":228,"moy":0.3,"ctl":0,"gfs":0,"01":0,"04":0,"06":0,"07":1.4,"11":0,"12":0,"16":0,"19":0,"22":0,"24":0,"25":0,"27":0,"29":0,"30":0},
      {"h":234,"moy":0.3,"ctl":0,"gfs":0,"01":0,"04":0,"06":0,"07":0.4,"11":0,"12":0,"16":0,"19":0,"22":0,"24":0,"25":0,"27":0,"29":0,"30":0},
      {"h":240,"moy":0.6,"ctl":0.4,"gfs":0,"01":0,"04":0,"06":0,"07":0,"11":0,"12":0,"16":0,"19":0,"22":0,"24":0,"25":0,"27":0.7,"29":0,"30":0},
      {"h":246,"moy":2.1,"ctl":1.6,"gfs":0.5,"01":0,"04":36.5,"06":0,"07":0,"11":0,"12":0,"16":0,"19":2.8,"22":0,"24":0,"25":0,"27":2.0,"29":0,"30":0},
      {"h":252,"moy":1.0,"ctl":0.5,"gfs":0.6,"01":0,"04":0,"06":0,"07":0,"11":1.5,"12":0,"16":0,"19":3.2,"22":0,"24":0,"25":0,"27":3.4,"29":1.3,"30":0},
      {"h":258,"moy":0.4,"ctl":0,"gfs":0.2,"01":0,"04":0,"06":0,"07":0,"11":0,"12":0,"16":0,"19":0.3,"22":0,"24":0,"25":0,"27":0.2,"29":0,"30":0},
      {"h":264,"moy":0.3,"ctl":0,"gfs":0,"01":0,"04":0,"06":0,"07":0,"11":0,"12":0,"16":0,"19":0,"22":0,"24":0,"25":0,"27":0,"29":0,"30":0},
      {"h":270,"moy":0.3,"ctl":0,"gfs":0,"01":0,"04":0,"06":0,"07":0,"11":0,"12":0,"16":0,"19":0,"22":0,"24":0,"25":0,"27":0,"29":0,"30":0},
      {"h":276,"moy":0.3,"ctl":0,"gfs":0,"01":0,"04":1.4,"06":0,"07":0,"11":0,"12":0,"16":0,"19":0,"22":0,"24":0,"25":0,"27":0,"29":0,"30":0},
      {"h":282,"moy":0.3,"ctl":0,"gfs":0,"01":0,"04":1.4,"06":0,"07":0,"11":0,"12":0,"16":0,"19":0,"22":0,"24":0,"25":0.8,"27":0,"29":0,"30":0},
      {"h":288,"moy":0.3,"ctl":0,"gfs":0,"01":0,"04":0,"06":0,"07":0,"11":0,"12":1.5,"16":0,"19":0,"22":0,"24":0,"25":0,"27":0,"29":0,"30":0},
      {"h":294,"moy":0.3,"ctl":0,"gfs":0,"01":0,"04":0,"06":0,"07":0,"11":0,"12":0,"16":0,"19":0,"22":0,"24":0,"25":0,"27":0,"29":0,"30":0},
      {"h":300,"moy":0.3,"ctl":0,"gfs":0,"01":0,"04":0,"06":0,"07":0,"11":0,"12":0,"16":0,"19":0,"22":0,"24":0,"25":1.3,"27":0,"29":0,"30":0},
      {"h":306,"moy":0.3,"ctl":0,"gfs":0,"01":0,"04":0,"06":0,"07":0,"11":0,"12":0,"16":0,"19":0,"22":0,"24":0,"25":0,"27":0,"29":0,"30":0},
      {"h":312,"moy":0.3,"ctl":0,"gfs":0,"01":0,"04":0,"06":0,"07":0,"11":0,"12":0,"16":0,"19":0,"22":0,"24":0,"25":0,"27":0,"29":0,"30":0},
      {"h":318,"moy":0.2,"ctl":0,"gfs":0,"01":0,"04":0,"06":0,"07":0,"11":0,"12":0,"16":0,"19":0,"22":0,"24":0,"25":0,"27":0,"29":0,"30":0},
      {"h":324,"moy":0.2,"ctl":0,"gfs":0,"01":0,"04":0,"06":0,"07":0,"11":0,"12":0,"16":0,"19":0,"22":0,"24":0,"25":0,"27":0,"29":0,"30":0},
      {"h":330,"moy":0.2,"ctl":0,"gfs":0,"01":0,"04":0,"06":0,"07":0,"11":0,"12":0,"16":0,"19":0,"22":0,"24":0,"25":0,"27":0,"29":0,"30":0},
      {"h":336,"moy":0.2,"ctl":0,"gfs":0,"01":0,"04":0,"06":0.8,"07":0,"11":0,"12":0,"16":0,"19":0,"22":0,"24":0,"25":0,"27":0,"29":0,"30":0},
      {"h":342,"moy":0.2,"ctl":0,"gfs":0,"01":0,"04":0,"06":2.3,"07":0,"11":0,"12":0,"16":0,"19":0,"22":1.0,"24":0,"25":0,"27":0,"29":0,"30":0},
      {"h":348,"moy":0.2,"ctl":0,"gfs":0,"01":0,"04":0,"06":0,"07":0,"11":0,"12":0,"16":0,"19":0,"22":3.0,"24":0,"25":0,"27":0,"29":0,"30":0},
      {"h":354,"moy":0.6,"ctl":0,"gfs":0,"01":0,"04":0,"06":0,"07":0,"11":0,"12":0,"16":0,"19":0.3,"22":0.3,"24":0,"25":0,"27":0,"29":0,"30":0},
      {"h":360,"moy":0.8,"ctl":0,"gfs":0,"01":0,"04":0,"06":0,"07":0,"11":0,"12":0,"16":0.5,"19":3.0,"22":0,"24":0,"25":0,"27":0,"29":0,"30":0},
      {"h":366,"moy":0.8,"ctl":0,"gfs":0,"01":0,"04":0,"06":0,"07":0,"11":0,"12":0,"16":10.5,"19":0.8,"22":0,"24":0,"25":0,"27":0,"29":0,"30":0},
      {"h":372,"moy":0.8,"ctl":0.3,"gfs":0,"01":0,"04":0,"06":0,"07":0,"11":0,"12":0,"16":8.8,"19":2.8,"22":0,"24":1.5,"25":0,"27":0,"29":0,"30":0},
      {"h":378,"moy":0.7,"ctl":0,"gfs":0,"01":0,"04":0,"06":0,"07":0,"11":0,"12":0,"16":0.6,"19":1.8,"22":0,"24":10.8,"25":0,"27":0,"29":0,"30":0},
      {"h":384,"moy":0.2,"ctl":0,"gfs":0,"01":0,"04":0,"06":0,"07":0,"11":0,"12":0,"16":0,"19":0.2,"22":0,"24":0,"25":0,"27":0,"29":0,"30":0}
    ]
  },
  "layer": [
    {
      "data": {"name": "pres"},
      "layer": [
        {
          "transform": [{"fold": ["01","02","03","04","05","06","07","08","09","10","11","12","13","14","15","16","17","18","19","20","21","22","23","24","25","26","27","28","29","30"], "as": ["membre", "hpa"]}],
          "mark": {"type": "line", "strokeWidth": 1},
          "encoding": {
            "x": {
              "field": "h", "type": "quantitative",
              "scale": {"domain": [0, 384], "nice": false, "zero": false},
              "axis": {
                "values": [18, 42, 66, 90, 114, 138, 162, 186, 210, 234, 258, 282, 306, 330, 354, 378],
                "tickCount": 20,
                "labelExpr": "utcFormat(utc(2026, 7, 25, 6 + datum.value), '%d/%m')",
                "labelAngle": 270, "labelAlign": "right", "labelBaseline": "top", "labelPadding": 2,
                "labelFont": "DejaVu Sans Mono", "labelFontSize": 10, "labelColor": "black",
                "labelOverlap": false, "labelFlush": false,
                "ticks": false, "tickSize": 0,
                "grid": true, "gridColor": "#bdbdbd", "gridWidth": 1,
                "domainColor": "black", "domainWidth": 1.5,
                "title": "Altitude du modele : 288m", "titleX": 205, "titleY": 60,
                "titleAlign": "center", "titleBaseline": "middle", "titleAngle": 0,
                "titleFont": "DejaVu Sans Mono", "titleFontSize": 10, "titleFontWeight": "normal", "titleColor": "black"
              }
            },
            "y": {
              "field": "hpa", "type": "quantitative",
              "scale": {"domain": [967.43, 1053.14], "nice": false, "zero": false},
              "axis": {
                "orient": "left",
                "values": [975, 980, 985, 990, 995, 1000, 1005, 1010, 1015, 1020, 1025, 1030, 1035, 1040, 1045, 1050],
                "tickCount": 20,
                "format": "d", "labelOverlap": false,
                "labelFont": "Liberation Sans", "labelFontSize": 11, "labelColor": "black", "labelPadding": 7,
                "ticks": false, "tickSize": 0,
                "grid": true, "gridColor": "#bdbdbd", "gridWidth": 1,
                "domainColor": "black", "domainWidth": 1.5,
                "title": "(hPa)", "titleAngle": 0, "titleX": -25, "titleY": 606,
                "titleAlign": "center", "titleBaseline": "middle",
                "titleFont": "DejaVu Sans Mono", "titleFontSize": 10, "titleFontWeight": "normal", "titleColor": "black"
              }
            },
            "color": {
              "field": "membre", "type": "nominal",
              "scale": {
                "domain": ["01","02","03","04","05","06","07","08","09","10","11","12","13","14","15","16","17","18","19","20","21","22","23","24","25","26","27","28","29","30"],
                "range": ["#e8802f","#80c870","#f0c000","#8c50a8","#b0500c","#508000","#1e8cff","#e8d8b0","#3c8cc0","#e8a850","#604c1c","#f86820","#d0c080","#00d860","#204058","#607080","#e080f8","#8020f0","#806030","#300070","#f8d800","#206098","#905820","#a090f0","#a0f030","#d070d0","#200098","#e0d0a8","#800000","#0030b0"]
              }
            }
          }
        },
        {
          "transform": [{"fold": ["01","02","03","04","05","06","07","08","09","10","11","12","13","14","15","16","17","18","19","20","21","22","23","24","25","26","27","28","29","30"], "as": ["membre", "hpa"]}],
          "mark": {"type": "point", "shape": "cross", "filled": true, "size": 7, "opacity": 1},
          "encoding": {
            "x": {"field": "h", "type": "quantitative"},
            "y": {"field": "hpa", "type": "quantitative"},
            "color": {
              "field": "membre", "type": "nominal",
              "legend": {
                "title": "30 Perts.", "orient": "none", "legendX": 290, "legendY": 641,
                "direction": "horizontal", "columns": 30, "columnPadding": 0, "padding": 0,
                "symbolType": "M-0.9,0.6H0.9V1.9H-0.9Z", "symbolSize": 121, "symbolStrokeWidth": 0, "symbolOpacity": 1,
                "labelOffset": -5.5, "labelAlign": "center", "labelBaseline": "bottom",
                "labelFont": "DejaVu Sans Mono", "labelFontSize": 7.5, "labelFontWeight": "bold", "labelColor": "black",
                "titleOrient": "left", "titlePadding": 6, "titleAnchor": "end", "titleBaseline": "bottom",
                "titleFont": "DejaVu Sans Mono", "titleFontSize": 10, "titleFontWeight": "normal", "titleColor": "black"
              }
            },
            "shape": {
              "datum": "Pression au niveau de la mer (hPa) , précipitations (mm)",
              "scale": {"range": ["cross"]},
              "legend": {
                "title": "Diagramme des ensembles GEFS sur 384h : 39.1N 0.5W",
                "orient": "none", "legendX": -26, "legendY": 665,
                "padding": 6, "strokeColor": "black", "fillColor": "white",
                "symbolOpacity": 0, "symbolSize": 4, "symbolStrokeWidth": 0, "symbolOffset": 402,
                "labelOffset": -404, "labelFont": "DejaVu Sans Mono", "labelFontSize": 10, "labelColor": "black", "labelLimit": 1000,
                "titleFont": "DejaVu Sans Mono", "titleFontSize": 11.5, "titleFontWeight": "bold", "titleColor": "black",
                "titleLimit": 1000, "titlePadding": 3
              }
            }
          }
        },
        {
          "mark": {"type": "line", "strokeWidth": 3.5},
          "encoding": {
            "x": {"field": "h", "type": "quantitative"},
            "y": {"field": "gfs", "type": "quantitative"},
            "stroke": {"datum": "Run GFS"}
          }
        },
        {
          "mark": {"type": "line", "strokeWidth": 3.5},
          "encoding": {
            "x": {"field": "h", "type": "quantitative"},
            "y": {"field": "ctl", "type": "quantitative"},
            "stroke": {
              "datum": "Run de contrôle",
              "scale": {"domain": ["Run de contrôle", "Run GFS"], "range": ["#0000ff", "#000000"]},
              "legend": {
                "title": null, "orient": "none", "legendX": 173, "legendY": 632, "padding": 0,
                "symbolType": "stroke", "symbolSize": 900, "symbolStrokeWidth": 4, "clipHeight": 10, "rowPadding": 0,
                "labelOffset": 8, "labelFont": "DejaVu Sans Mono", "labelFontSize": 10, "labelColor": "black"
              }
            }
          }
        },
        {
          "mark": {"type": "line", "strokeWidth": 4.5, "color": "#ff0000"},
          "encoding": {
            "x": {"field": "h", "type": "quantitative"},
            "y": {"field": "moy", "type": "quantitative"},
            "strokeDash": {
              "datum": "Moyenne des scénarios",
              "scale": {"range": [[1, 0]]},
              "legend": {
                "title": null, "orient": "none", "legendX": -17, "legendY": 642, "padding": 0,
                "symbolType": "stroke", "symbolSize": 900, "symbolStrokeWidth": 4.5, "symbolStrokeColor": "#ff0000",
                "clipHeight": 10, "labelOffset": 7.5,
                "labelFont": "DejaVu Sans Mono", "labelFontSize": 10, "labelColor": "black"
              }
            }
          }
        },
        {
          "data": {"values": [{"h": 5.4, "hpa": 1016.6, "txt": "Pression"}]},
          "mark": {"type": "text", "align": "left", "baseline": "middle", "font": "Liberation Sans", "fontSize": 12, "color": "black"},
          "encoding": {
            "x": {"field": "h", "type": "quantitative"},
            "y": {"field": "hpa", "type": "quantitative"},
            "text": {"field": "txt"}
          }
        }
      ]
    },
    {
      "data": {"name": "pluie"},
      "layer": [
        {
          "transform": [{"fold": ["01","04","06","07","11","12","16","19","22","24","25","27","29","30"], "as": ["membre", "mm"]}],
          "mark": {"type": "line", "strokeWidth": 1},
          "encoding": {
            "x": {"field": "h", "type": "quantitative"},
            "y": {
              "field": "mm", "type": "quantitative",
              "scale": {"domain": [-7.57, 78.14], "nice": false, "zero": false},
              "axis": {
                "orient": "right",
                "values": [0, 5, 10, 15, 20, 25, 30, 35, 40, 45, 50, 55, 60, 65, 70, 75],
                "tickCount": 20,
                "format": "d", "labelOverlap": false,
                "labelFont": "Liberation Sans", "labelFontSize": 11, "labelColor": "black", "labelPadding": 19,
                "labelAlign": "left",
                "ticks": false, "tickSize": 0, "grid": false,
                "domainColor": "black", "domainWidth": 1.5,
                "title": "(mm)", "titleAngle": 0, "titleX": 35, "titleY": 606,
                "titleAlign": "center", "titleBaseline": "middle",
                "titleFont": "DejaVu Sans Mono", "titleFontSize": 10, "titleFontWeight": "normal", "titleColor": "black"
              }
            },
            "color": {"field": "membre", "type": "nominal"}
          }
        },
        {
          "mark": {"type": "line", "strokeWidth": 3.5, "color": "#000000"},
          "encoding": {
            "x": {"field": "h", "type": "quantitative"},
            "y": {"field": "gfs", "type": "quantitative"}
          }
        },
        {
          "mark": {"type": "line", "strokeWidth": 3.5, "color": "#0000ff"},
          "encoding": {
            "x": {"field": "h", "type": "quantitative"},
            "y": {"field": "ctl", "type": "quantitative"}
          }
        },
        {
          "mark": {"type": "line", "strokeWidth": 4.5, "color": "#ff0000"},
          "encoding": {
            "x": {"field": "h", "type": "quantitative"},
            "y": {"field": "moy", "type": "quantitative"}
          }
        },
        {
          "data": {"values": [{"h": 5.4, "mm": 3.0, "txt": "Précipitations"}]},
          "mark": {"type": "text", "align": "left", "baseline": "middle", "font": "Liberation Sans", "fontSize": 12, "color": "black"},
          "encoding": {
            "x": {"field": "h", "type": "quantitative"},
            "y": {"field": "mm", "type": "quantitative"},
            "text": {"field": "txt"}
          }
        }
      ]
    }
  ],
  "resolve": {"scale": {"y": "independent"}, "axis": {"y": "independent"}}
}
